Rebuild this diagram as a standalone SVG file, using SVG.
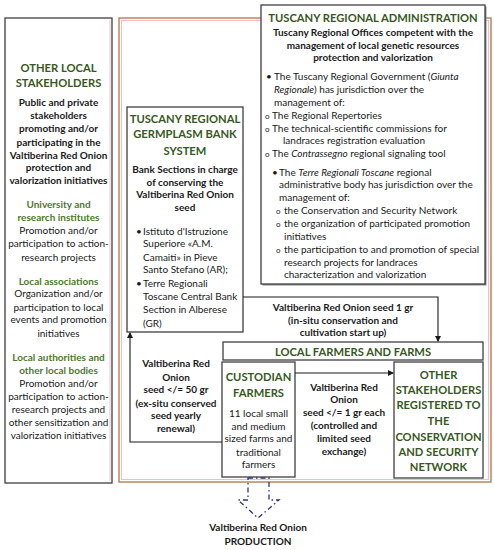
<svg xmlns="http://www.w3.org/2000/svg" width="494" height="550" viewBox="0 0 494 550">
<style>
.t{font-family:Lato,"Open Sans","Liberation Sans",sans-serif;font-size:10px;fill:#1a1a1a}
.b{font-weight:bold}
.c{text-anchor:middle}
.g{fill:#385723;font-weight:bold;font-size:11.2px}
.sg{fill:#4e7a2c;font-weight:bold}
.i{font-style:italic}
.o{font-size:8px}
.box{fill:#fff;stroke:#404040;stroke-width:1.3}
.ln{fill:none;stroke:#1a1a1a;stroke-width:1.1}
</style>
<defs>
<marker id="ah" markerWidth="6" markerHeight="6" refX="5" refY="3" orient="auto" markerUnits="userSpaceOnUse">
<path d="M0,0 L6,3 L0,6 z" fill="#1a1a1a"/>
</marker>
</defs>
<rect width="494" height="550" fill="#fff"/>

<g id="outer-region">
<rect x="119" y="18" width="372" height="464" fill="none" stroke="#b8865e" stroke-width="1.5"/>
<rect x="121.5" y="20.5" width="367" height="459" fill="none" stroke="#f2a0a8" stroke-width="1" opacity="0.7"/>
</g>

<g id="other-local-stakeholders">
<rect class="box" x="5" y="18" width="107" height="465" stroke="#555"/>
<line x1="110" y1="20" x2="110" y2="481" stroke="#e8a8c0" stroke-width="1" opacity="0.7"/>
<text class="t g c" x="58.5" y="72">OTHER LOCAL</text>
<text class="t g c" x="58.5" y="87">STAKEHOLDERS</text>
<text class="t b c" x="58.5" y="106">Public and private</text>
<text class="t b c" x="58.5" y="119">stakeholders</text>
<text class="t b c" x="58.5" y="132">promoting and/or</text>
<text class="t b c" x="58.5" y="146">participating in the</text>
<text class="t b c" x="58.5" y="159">Valtiberina Red Onion</text>
<text class="t b c" x="58.5" y="171">protection and</text>
<text class="t b c" x="58.5" y="184">valorization initiatives</text>
<text class="t sg c" x="58.5" y="208">University and</text>
<text class="t sg c" x="58.5" y="221">research institutes</text>
<text class="t c" x="58.5" y="234">Promotion and/or</text>
<text class="t c" x="58.5" y="247">participation to action-</text>
<text class="t c" x="58.5" y="261">research projects</text>
<text class="t sg c" x="58.5" y="285">Local associations</text>
<text class="t c" x="58.5" y="297">Organization and/or</text>
<text class="t c" x="58.5" y="311">participation to local</text>
<text class="t c" x="58.5" y="323">events and promotion</text>
<text class="t c" x="58.5" y="337">initiatives</text>
<text class="t sg c" x="58.5" y="361">Local authorities and</text>
<text class="t sg c" x="58.5" y="374">other local bodies</text>
<text class="t c" x="58.5" y="387">Promotion and/or</text>
<text class="t c" x="58.5" y="400">participation to action-</text>
<text class="t c" x="58.5" y="413">research projects and</text>
<text class="t c" x="58.5" y="426">other sensitization and</text>
<text class="t c" x="58.5" y="439">valorization initiatives</text>
</g>

<g id="tuscany-regional-administration">
<rect x="262.5" y="6.5" width="224" height="279" fill="#8a8a8a"/>
<rect class="box" x="261" y="5" width="224" height="279"/>
<text class="t g c" x="373" y="22">TUSCANY REGIONAL ADMINISTRATION</text>
<text class="t b c" x="373" y="36">Tuscany Regional Offices competent with the</text>
<text class="t b c" x="373" y="48.5">management of local genetic resources</text>
<text class="t b c" x="373" y="61">protection and valorization</text>
<text class="t" x="266" y="80">•</text>
<text class="t" x="274" y="80">The Tuscany Regional Government (<tspan class="i">Giunta</tspan></text>
<text class="t" x="274" y="93"><tspan class="i">Regionale</tspan>) has jurisdiction over the</text>
<text class="t" x="274" y="106">management of:</text>
<text class="t o" x="265" y="119">o</text>
<text class="t" x="272" y="119">The Regional Repertories</text>
<text class="t o" x="265" y="132">o</text>
<text class="t" x="272" y="132">The technical-scientific commissions for</text>
<text class="t" x="283" y="144">landraces registration evaluation</text>
<text class="t o" x="265" y="157">o</text>
<text class="t" x="272" y="157">The <tspan class="i">Contrassegno</tspan> regional signaling tool</text>
<text class="t" x="272" y="176">•</text>
<text class="t" x="279" y="176">The <tspan class="i">Terre Regionali Toscane</tspan> regional</text>
<text class="t" x="279" y="188">administrative body has jurisdiction over the</text>
<text class="t" x="279" y="201">management of:</text>
<text class="t o" x="276" y="214">o</text>
<text class="t" x="284" y="214">the Conservation and Security Network</text>
<text class="t o" x="276" y="227">o</text>
<text class="t" x="284" y="227">the organization of participated promotion</text>
<text class="t" x="284" y="240">initiatives</text>
<text class="t o" x="276" y="253">o</text>
<text class="t" x="284" y="253">the participation to and promotion of special</text>
<text class="t" x="284" y="266">research projects for landraces</text>
<text class="t" x="284" y="278">characterization and valorization</text>
</g>

<g id="germplasm-bank">
<rect class="box" x="127" y="107" width="116" height="225"/>
<text class="t g c" x="185" y="123">TUSCANY REGIONAL</text>
<text class="t g c" x="185" y="138">GERMPLASM BANK</text>
<text class="t g c" x="185" y="155">SYSTEM</text>
<text class="t b c" x="185" y="173">Bank Sections in charge</text>
<text class="t b c" x="185" y="186">of conserving the</text>
<text class="t b c" x="185" y="198">Valtiberina Red Onion</text>
<text class="t b c" x="185" y="211">seed</text>
<text class="t" x="136" y="235">•</text>
<text class="t" x="143" y="235">Istituto d'Istruzione</text>
<text class="t" x="143" y="247">Superiore «A.M.</text>
<text class="t" x="143" y="261">Camaiti» in Pieve</text>
<text class="t" x="143" y="273">Santo Stefano (AR);</text>
<text class="t" x="136" y="287">•</text>
<text class="t" x="143" y="287">Terre Regionali</text>
<text class="t" x="143" y="300">Toscane Central Bank</text>
<text class="t" x="143" y="313">Section in Alberese</text>
<text class="t" x="143" y="327">(GR)</text>
</g>

<g id="local-farmers-header">
<rect class="box" x="223" y="342" width="260" height="18"/>
<text class="t g c" x="353" y="355.5">LOCAL FARMERS AND FARMS</text>
</g>

<g id="custodian-farmers">
<rect class="box" x="222" y="362" width="73" height="115"/>
<text class="t g c" x="258.5" y="381">CUSTODIAN</text>
<text class="t g c" x="258.5" y="397">FARMERS</text>
<text class="t c" x="258.5" y="417">11 local small</text>
<text class="t c" x="258.5" y="430">and medium</text>
<text class="t c" x="258.5" y="442">sized farms and</text>
<text class="t c" x="258.5" y="456">traditional</text>
<text class="t c" x="258.5" y="468">farmers</text>
</g>

<g id="other-registered-stakeholders">
<rect class="box" x="394" y="362" width="89" height="116"/>
<text class="t g c" x="438.5" y="379">OTHER</text>
<text class="t g c" x="438.5" y="394">STAKEHOLDERS</text>
<text class="t g c" x="438.5" y="409">REGISTERED TO</text>
<text class="t g c" x="438.5" y="425">THE</text>
<text class="t g c" x="438.5" y="441">CONSERVATION</text>
<text class="t g c" x="438.5" y="456">AND SECURITY</text>
<text class="t g c" x="438.5" y="471">NETWORK</text>
</g>

<g id="production">
<text class="t b c" x="258" y="531">Valtiberina Red Onion</text>
<text class="t b c" x="258" y="545">PRODUCTION</text>
</g>

<g id="connectors">
<polyline class="ln" points="243,297 438,297 438,341" marker-end="url(#ah)"/>
<polyline class="ln" points="222,442 130,442 130,333" marker-end="url(#ah)"/>
<line class="ln" x1="295" y1="373" x2="393" y2="373" marker-end="url(#ah)"/>
<polygon points="248,478 269,478 269,500 279,500 258,518 238,500 248,500" fill="none" stroke="#2e3575" stroke-width="1.3" stroke-dasharray="5,3,1.5,3"/>
<text class="t b c" x="343" y="311">Valtiberina Red Onion seed 1 gr</text>
<text class="t b c" x="343" y="324">(in-situ conservation and</text>
<text class="t b c" x="343" y="336">cultivation start up)</text>
<text class="t b c" x="176" y="367">Valtiberina Red</text>
<text class="t b c" x="176" y="381">Onion</text>
<text class="t b c" x="176" y="393">seed &lt;/= 50 gr</text>
<text class="t b c" x="176" y="407">(ex-situ conserved</text>
<text class="t b c" x="176" y="419">seed yearly</text>
<text class="t b c" x="176" y="432">renewal)</text>
<text class="t b c" x="344" y="391">Valtiberina Red</text>
<text class="t b c" x="344" y="403">Onion</text>
<text class="t b c" x="344" y="416">seed &lt;/= 1 gr each</text>
<text class="t b c" x="344" y="429">(controlled and</text>
<text class="t b c" x="344" y="442">limited seed</text>
<text class="t b c" x="344" y="455">exchange)</text>
</g>
</svg>
